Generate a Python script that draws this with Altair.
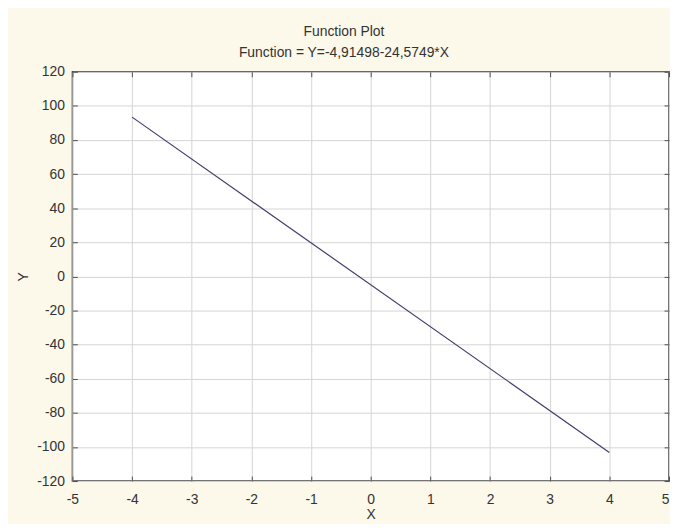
import altair as alt
import pandas as pd

# Data
x_vals = [-4, 4]
y_vals = [93.4, -103.2]
x_ticks = [-5, -4, -3, -2, -1, 0, 1, 2, 3, 4, 5]
y_ticks = [-120, -100, -80, -60, -40, -20, 0, 20, 40, 60, 80, 100, 120]

df = pd.DataFrame({"X": x_vals, "Y": y_vals})

FONT = "Liberation Sans"
TXT = "#333333"
HYPHEN_LABEL = "'' + datum.value"

xscale = alt.Scale(domain=[-5, 5], nice=False, zero=False)
yscale = alt.Scale(domain=[-120, 120], nice=False, zero=False)

base = alt.Chart(df)

line = base.mark_line(color="#3F3D6B", strokeWidth=1.2).encode(
    x=alt.X("X:Q", scale=xscale,
            axis=alt.Axis(orient="bottom", values=x_ticks, offset=-5, tickSize=5,
                          tickColor="#505050", domain=False, grid=True,
                          gridColor="#D4D4D4", labelPadding=12, labelFontSize=14,
                          labelFont=FONT, labelColor=TXT, title="X", titleFont=FONT,
                          titleFontSize=14, titleFontWeight="normal", titleColor=TXT,
                          titlePadding=1, labelFlush=False, labelExpr=HYPHEN_LABEL,
                          labelAlign={"condition": {"test": "datum.value == 5", "value": "right"},
                                      "value": "center"})),
    y=alt.Y("Y:Q", scale=yscale,
            axis=alt.Axis(orient="left", values=y_ticks, offset=-5, tickSize=5,
                          tickColor="#505050", domain=False, grid=True,
                          gridColor="#D4D4D4", labelPadding=8, labelFontSize=14,
                          labelFont=FONT, labelColor=TXT, title="Y", titleFont=FONT,
                          titleFontSize=14, titleFontWeight="normal", titleColor=TXT,
                          titlePadding=6, labelFlush=False, labelExpr=HYPHEN_LABEL)),
)

mirror = base.mark_point(opacity=0).encode(
    x=alt.X("X:Q", scale=xscale,
            axis=alt.Axis(orient="top", values=x_ticks, offset=-5, tickSize=5,
                          tickColor="#505050", domain=False, grid=False,
                          labels=False, title=None)),
    y=alt.Y("Y:Q", scale=yscale,
            axis=alt.Axis(orient="right", values=y_ticks, offset=-5, tickSize=5,
                          tickColor="#505050", domain=False, grid=False,
                          labels=False, title=None)),
)

chart = alt.layer(line, mirror).resolve_axis(x="independent", y="independent").properties(
    width=602,
    height=413,
    autosize=alt.AutoSizeParams(type="none"),
    padding={"left": 65, "top": 62, "right": 1, "bottom": 41},
    background="#FCF8EA",
    title=alt.TitleParams(
        text="Function Plot",
        subtitle="Function = Y=-4,91498-24,5749*X",
        anchor="middle",
        dx=-27,
        offset=5,
        font=FONT,
        fontSize=14,
        fontWeight="normal",
        color=TXT,
        subtitleFont=FONT,
        subtitleFontSize=14,
        subtitleColor=TXT,
        subtitlePadding=7,
    ),
).configure_view(stroke="#454545", strokeWidth=1.5, fill="white")

chart.save("out.html", embed_options={"renderer": "svg", "actions": False})
